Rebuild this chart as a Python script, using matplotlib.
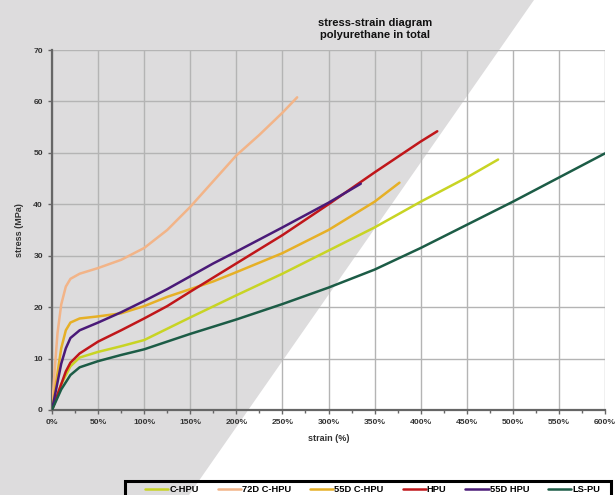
import matplotlib
matplotlib.use("Agg")
import matplotlib.pyplot as plt
from matplotlib.patches import Polygon, Rectangle
from matplotlib.ticker import MultipleLocator, FuncFormatter

# ---- data (strain %, stress MPa) ----
c_hpu_x = [0, 10, 20, 30, 50, 75, 100, 150, 200, 250, 300, 350, 400, 450, 484]
c_hpu_y = [0, 5, 8.5, 10.2, 11.3, 12.4, 13.6, 18, 22.3, 26.5, 31, 35.5, 40.5, 45.2, 48.7]

c72_x = [0, 3, 6, 10, 15, 20, 30, 50, 75, 100, 125, 150, 175, 200, 225, 250, 266]
c72_y = [0, 8, 15, 20.5, 24, 25.5, 26.5, 27.6, 29.2, 31.5, 35, 39.5, 44.5, 49.5, 53.5, 57.8, 60.8]

c55_x = [0, 5, 10, 15, 20, 30, 50, 75, 100, 125, 150, 175, 200, 250, 300, 350, 377]
c55_y = [0, 6, 12, 15.5, 17, 17.8, 18.2, 18.8, 20.2, 22, 23.5, 25, 26.8, 30.5, 35, 40.5, 44.2]

hpu_x = [0, 5, 10, 15, 20, 30, 50, 75, 100, 125, 150, 200, 250, 300, 350, 400, 418]
hpu_y = [0, 2.5, 5, 7.5, 9.2, 11, 13.3, 15.5, 17.8, 20.2, 23, 28.5, 34, 40, 46.2, 52.2, 54.2]

h55_x = [0, 5, 10, 15, 20, 30, 50, 75, 100, 125, 150, 175, 200, 250, 300, 335]
h55_y = [0, 4.5, 9, 12, 14, 15.5, 17, 19, 21.2, 23.5, 26, 28.5, 30.8, 35.5, 40.3, 44]

lspu_x = [0, 10, 20, 30, 50, 75, 100, 150, 200, 250, 300, 350, 400, 450, 500, 550, 600]
lspu_y = [0, 4, 6.8, 8.3, 9.5, 10.7, 11.8, 14.8, 17.6, 20.6, 23.8, 27.3, 31.5, 36, 40.5, 45.2, 49.9]

labels = ["C-HPU", "72D C-HPU", "55D C-HPU", "HPU", "55D HPU", "LS-PU"]
colors = ["#c8d424", "#f2b488", "#e6b026", "#c0161a", "#4a1a78", "#1c5c46"]
series = [(c_hpu_x, c_hpu_y), (c72_x, c72_y), (c55_x, c55_y),
          (hpu_x, hpu_y), (h55_x, h55_y), (lspu_x, lspu_y)]

xticks = list(range(0, 601, 50))
yticks = list(range(0, 71, 10))

# ---- figure ----
W, H = 615, 495
fig = plt.figure(figsize=(W / 100, H / 100), dpi=100)
fig.patch.set_facecolor("#dddcdd")
poly = Polygon([(534 / W, 1), (1, 1), (1, 0), (189 / W, 0)], closed=True,
               transform=fig.transFigure, facecolor="white", edgecolor="none", zorder=-5)
fig.patches.append(poly)

ax = fig.add_axes([52 / W, 1 - 410 / H, (605 - 52) / W, (410 - 50) / H])
ax.set_facecolor("none")

font = "Liberation Sans"
for (xs, ys), lab, col in zip(series, labels, colors):
    ax.plot(xs, ys, color=col, lw=1.8, label=lab, solid_joinstyle="round",
            solid_capstyle="round", zorder=3)

ax.set_xlim(0, 600)
ax.set_ylim(0, 70)
ax.set_xticks(xticks)
ax.set_yticks(yticks)
ax.xaxis.set_minor_locator(MultipleLocator(25))
ax.xaxis.set_major_formatter(FuncFormatter(lambda v, p: f"{int(v)}%"))
ax.grid(True, which="major", color="#b4b4b4", lw=1.0, zorder=0)
for s in ["top", "right"]:
    ax.spines[s].set_visible(False)
for s in ["left", "bottom"]:
    ax.spines[s].set_color("#666666")
    ax.spines[s].set_linewidth(1.6)
ax.tick_params(axis="both", which="both", colors="#666666", labelcolor="#333333",
               labelsize=6.1, length=3, width=1)
ax.tick_params(axis="x", which="minor", length=2)
for t in ax.get_xticklabels() + ax.get_yticklabels():
    t.set_fontfamily(font)
    t.set_fontweight("bold")

ax.set_xlabel("strain (%)", fontsize=6.5, fontfamily=font, fontweight="bold",
              color="#333333", labelpad=6)
ax.set_ylabel("stress (MPa)", fontsize=6.5, fontfamily=font, fontweight="bold",
              color="#333333", labelpad=7)

fig.text(375 / W, 1 - 29 / H, "stress-strain diagram\npolyurethane in total",
         ha="center", va="center", fontsize=8, fontfamily=font, fontweight="bold",
         color="#111111", linespacing=1.35)

# legend frame (cut off at the bottom edge as in the picture)
frame = Rectangle((125 / W, -0.05), (611 - 125) / W, 0.05 + (495 - 481) / H,
                  transform=fig.transFigure, facecolor="none", edgecolor="black",
                  lw=2.2, zorder=5)
fig.patches.append(frame)
leg = fig.legend(*ax.get_legend_handles_labels(), loc="center left",
                 bbox_to_anchor=(145 / W, 1 - 490 / H),
                 ncol=6, frameon=False, borderaxespad=0, borderpad=0,
                 handlelength=2.5, handletextpad=0.1, columnspacing=2.05,
                 prop={"family": font, "weight": "bold", "size": 6.7})

fig.savefig("out.png", dpi=100, facecolor=fig.get_facecolor())
